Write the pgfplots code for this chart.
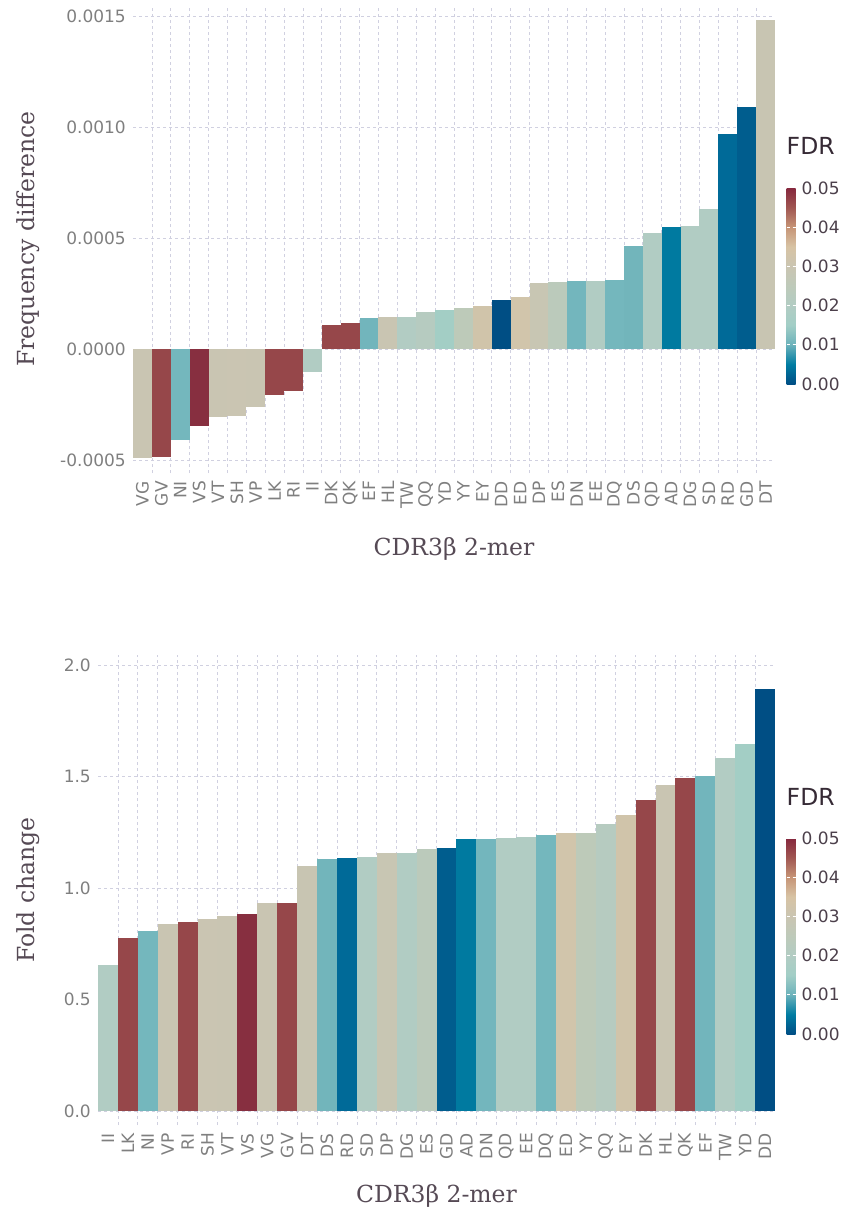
\documentclass[border=0pt]{standalone}
\usepackage{pgfplots}
\pgfplotsset{compat=1.18}
\usepackage{fontspec}
\setmainfont{DejaVu Sans}
\newfontfamily\labfont{DejaVu Serif}

\definecolor{gridc}{HTML}{D0D0E0}
\definecolor{ticklab}{HTML}{7F7F7F}
\definecolor{labc}{HTML}{564A55}
\definecolor{keylab}{HTML}{4C404B}
\definecolor{keytitle}{HTML}{362A35}

% bar colours (by FDR)
\definecolor{cVG}{HTML}{C9C5B2}
\definecolor{cVT}{HTML}{C9C5B2}
\definecolor{cSH}{HTML}{CAC5B2}
\definecolor{cVP}{HTML}{C9C5B2}
\definecolor{cHL}{HTML}{C9C5B2}
\definecolor{cDP}{HTML}{C8C6B3}
\definecolor{cDT}{HTML}{C8C5B2}
\definecolor{cGV}{HTML}{96474A}
\definecolor{cLK}{HTML}{96474A}
\definecolor{cRI}{HTML}{96474A}
\definecolor{cDK}{HTML}{96474A}
\definecolor{cQK}{HTML}{96474A}
\definecolor{cVS}{HTML}{872F40}
\definecolor{cNI}{HTML}{74B7BD}
\definecolor{cEF}{HTML}{72B5BC}
\definecolor{cDN}{HTML}{73B6BD}
\definecolor{cDQ}{HTML}{74B7BD}
\definecolor{cDS}{HTML}{72B5BB}
\definecolor{cII}{HTML}{B1CCC3}
\definecolor{cTW}{HTML}{B2CCC3}
\definecolor{cEE}{HTML}{B1CCC3}
\definecolor{cQD}{HTML}{B1CCC3}
\definecolor{cDG}{HTML}{B1CCC3}
\definecolor{cSD}{HTML}{B1CCC3}
\definecolor{cQQ}{HTML}{B6CBC0}
\definecolor{cYD}{HTML}{A3CEC5}
\definecolor{cYY}{HTML}{BDCAB9}
\definecolor{cES}{HTML}{BBCABB}
\definecolor{cEY}{HTML}{D0C4AA}
\definecolor{cED}{HTML}{D1C5AB}
\definecolor{cDD}{HTML}{004E84}
\definecolor{cAD}{HTML}{007AA0}
\definecolor{cRD}{HTML}{006A98}
\definecolor{cGD}{HTML}{005D8E}

\pgfplotsset{
  colormap={fdr}{rgb255=(0,78,132) rgb255=(0,124,162) rgb255=(108,178,187)
    rgb255=(162,206,198) rgb255=(178,204,195) rgb255=(190,202,186)
    rgb255=(202,197,178) rgb255=(215,195,164) rgb255=(198,148,118)
    rgb255=(160,86,82) rgb255=(134,40,62)},
  gadfly/.style={
    scale only axis,
    xmin=-0.5, xmax=33.5,
    xtick={0,...,33},
    minor xtick={0.5,1.5,...,32.5},
    xmajorgrids=false, xminorgrids=true, ymajorgrids=true,
    major grid style={draw=gridc, dash pattern=on 3pt off 3pt, line width=0.7pt},
    minor grid style={draw=gridc, dash pattern=on 3pt off 3pt, line width=0.7pt},
    major tick length=0pt, minor tick length=0pt,
    axis line style={draw=none},
    tick label style={font=\fontsize{17}{17}\selectfont, text=ticklab, inner sep=0pt},
    xticklabel style={rotate=90, anchor=east},
    yticklabel style={anchor=east},
    xticklabel shift=8pt, yticklabel shift=7pt,
    scaled y ticks=false,
    colormap name=fdr,
    colorbar,
    point meta min=0, point meta max=0.05,
    colorbar style={
      at={(parent axis.north east)}, anchor=north west,
      xshift=3pt, yshift=-183pt,
      scale only axis, width=9pt, height=196pt,
      axis on top,
      axis line style={draw=none},
      major tick length=0pt,
      ytick={0,0.01,0.02,0.03,0.04,0.05},
      yticklabels={0.00,0.01,0.02,0.03,0.04,0.05},
      scaled y ticks=false,
      yticklabel pos=right,
      yticklabel style={font=\fontsize{17}{17}\selectfont, text=keylab, inner sep=0pt, anchor=west},
      yticklabel shift=6pt,
      extra y ticks={0.01,0.02,0.03,0.04},
      extra y tick labels={},
      extra y tick style={grid=major, major grid style={draw=white, line width=1.2pt}},
      title={FDR},
      title style={at={(0,1)}, anchor=base west, yshift=27pt, inner sep=0pt,
        font=\fontsize{23.5}{23.5}\selectfont, text=keytitle},
    },
  },
  bar/.style={ybar, bar width=1, bar shift=0pt, draw=none, fill=#1},
}

\begin{document}
\begin{tikzpicture}
\useasboundingbox (0pt,0pt) rectangle (844pt,-1209pt);

% ---------------- top panel: frequency difference ----------------
\begin{axis}[gadfly,
  at={(133pt,-5pt)}, anchor=north west,
  width=642pt, height=468pt,
  ymin=-0.0005573, ymax=0.0015527,
  ytick={-0.0005,0,0.0005,0.001,0.0015},
  yticklabels={-0.0005,0.0000,0.0005,0.0010,0.0015},
  xticklabels={VG,GV,NI,VS,VT,SH,VP,LK,RI,II,DK,QK,EF,HL,TW,QQ,YD,YY,EY,DD,ED,DP,ES,DN,EE,DQ,DS,QD,AD,DG,SD,RD,GD,DT},
  xlabel={CDR3β 2-mer},
  ylabel={Frequency difference},
  every axis x label/.style={at={([yshift=-82pt]rel axis cs:0.5,0)}, anchor=base,
    font=\labfont\fontsize{23.5}{23.5}\selectfont, text=labc},
  every axis y label/.style={at={([xshift=-98pt]rel axis cs:0,0.5)}, rotate=90, anchor=base,
    font=\labfont\fontsize{23.5}{23.5}\selectfont, text=labc},
]
\addplot[bar=cVG] coordinates {(0,-0.000489)};
\addplot[bar=cGV] coordinates {(1,-0.000483)};
\addplot[bar=cNI] coordinates {(2,-0.000408)};
\addplot[bar=cVS] coordinates {(3,-0.000345)};
\addplot[bar=cVT] coordinates {(4,-0.000304)};
\addplot[bar=cSH] coordinates {(5,-0.000301)};
\addplot[bar=cVP] coordinates {(6,-0.000259)};
\addplot[bar=cLK] coordinates {(7,-0.000205)};
\addplot[bar=cRI] coordinates {(8,-0.000186)};
\addplot[bar=cII] coordinates {(9,-0.000101)};
\addplot[bar=cDK] coordinates {(10,0.000110)};
\addplot[bar=cQK] coordinates {(11,0.000120)};
\addplot[bar=cEF] coordinates {(12,0.000143)};
\addplot[bar=cHL] coordinates {(13,0.000148)};
\addplot[bar=cTW] coordinates {(14,0.000148)};
\addplot[bar=cQQ] coordinates {(15,0.000169)};
\addplot[bar=cYD] coordinates {(16,0.000179)};
\addplot[bar=cYY] coordinates {(17,0.000188)};
\addplot[bar=cEY] coordinates {(18,0.000196)};
\addplot[bar=cDD] coordinates {(19,0.000224)};
\addplot[bar=cED] coordinates {(20,0.000238)};
\addplot[bar=cDP] coordinates {(21,0.000300)};
\addplot[bar=cES] coordinates {(22,0.000304)};
\addplot[bar=cDN] coordinates {(23,0.000309)};
\addplot[bar=cEE] coordinates {(24,0.000309)};
\addplot[bar=cDQ] coordinates {(25,0.000314)};
\addplot[bar=cDS] coordinates {(26,0.000467)};
\addplot[bar=cQD] coordinates {(27,0.000525)};
\addplot[bar=cAD] coordinates {(28,0.000553)};
\addplot[bar=cDG] coordinates {(29,0.000557)};
\addplot[bar=cSD] coordinates {(30,0.000634)};
\addplot[bar=cRD] coordinates {(31,0.000972)};
\addplot[bar=cGD] coordinates {(32,0.001093)};
\addplot[bar=cDT] coordinates {(33,0.001486)};
\end{axis}

% ---------------- bottom panel: fold change ----------------
\begin{axis}[gadfly,
  at={(98pt,-655pt)}, anchor=north west,
  width=677pt, height=470pt,
  ymin=-0.0628, ymax=2.0462,
  ytick={0,0.5,1,1.5,2},
  yticklabels={0.0,0.5,1.0,1.5,2.0},
  xticklabels={II,LK,NI,VP,RI,SH,VT,VS,VG,GV,DT,DS,RD,SD,DP,DG,ES,GD,AD,DN,QD,EE,DQ,ED,YY,QQ,EY,DK,HL,QK,EF,TW,YD,DD},
  xlabel={CDR3β 2-mer},
  ylabel={Fold change},
  every axis x label/.style={at={([yshift=-77pt]rel axis cs:0.5,0)}, anchor=base,
    font=\labfont\fontsize{23.5}{23.5}\selectfont, text=labc},
  every axis y label/.style={at={([xshift=-63pt]rel axis cs:0,0.5)}, rotate=90, anchor=base,
    font=\labfont\fontsize{23.5}{23.5}\selectfont, text=labc},
]
\addplot[bar=cII] coordinates {(0,0.657)};
\addplot[bar=cLK] coordinates {(1,0.778)};
\addplot[bar=cNI] coordinates {(2,0.809)};
\addplot[bar=cVP] coordinates {(3,0.841)};
\addplot[bar=cRI] coordinates {(4,0.850)};
\addplot[bar=cSH] coordinates {(5,0.863)};
\addplot[bar=cVT] coordinates {(6,0.873)};
\addplot[bar=cVS] coordinates {(7,0.886)};
\addplot[bar=cVG] coordinates {(8,0.935)};
\addplot[bar=cGV] coordinates {(9,0.935)};
\addplot[bar=cDT] coordinates {(10,1.098)};
\addplot[bar=cDS] coordinates {(11,1.129)};
\addplot[bar=cRD] coordinates {(12,1.134)};
\addplot[bar=cSD] coordinates {(13,1.142)};
\addplot[bar=cDP] coordinates {(14,1.157)};
\addplot[bar=cDG] coordinates {(15,1.160)};
\addplot[bar=cES] coordinates {(16,1.175)};
\addplot[bar=cGD] coordinates {(17,1.178)};
\addplot[bar=cAD] coordinates {(18,1.219)};
\addplot[bar=cDN] coordinates {(19,1.219)};
\addplot[bar=cQD] coordinates {(20,1.224)};
\addplot[bar=cEE] coordinates {(21,1.229)};
\addplot[bar=cDQ] coordinates {(22,1.237)};
\addplot[bar=cED] coordinates {(23,1.247)};
\addplot[bar=cYY] coordinates {(24,1.247)};
\addplot[bar=cQQ] coordinates {(25,1.286)};
\addplot[bar=cEY] coordinates {(26,1.327)};
\addplot[bar=cDK] coordinates {(27,1.395)};
\addplot[bar=cHL] coordinates {(28,1.462)};
\addplot[bar=cQK] coordinates {(29,1.495)};
\addplot[bar=cEF] coordinates {(30,1.503)};
\addplot[bar=cTW] coordinates {(31,1.583)};
\addplot[bar=cYD] coordinates {(32,1.647)};
\addplot[bar=cDD] coordinates {(33,1.894)};
\end{axis}
\end{tikzpicture}
\end{document}
